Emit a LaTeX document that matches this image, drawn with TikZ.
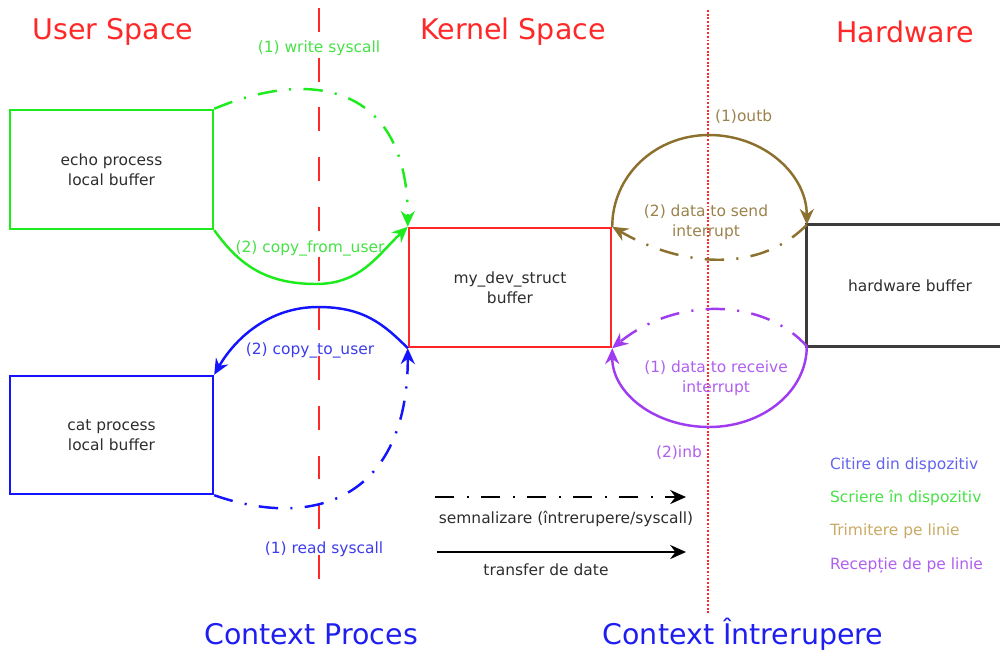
\documentclass[tikz,border=0pt]{standalone}
\usepackage{fontspec}
\setmainfont{DejaVu Sans}
\usetikzlibrary{arrows.meta}
\definecolor{titlered}{RGB}{255,40,40}
\definecolor{ctxblue}{RGB}{30,30,240}
\definecolor{wrgreen}{RGB}{30,235,30}
\definecolor{wrgreentxt}{RGB}{70,225,70}
\definecolor{rdblue}{RGB}{20,20,255}
\definecolor{rdbluetxt}{RGB}{60,60,235}
\definecolor{sendbrown}{RGB}{140,112,45}
\definecolor{sendbrowntxt}{RGB}{155,130,75}
\definecolor{sendtan}{RGB}{200,170,100}
\definecolor{recvpurple}{RGB}{160,60,240}
\definecolor{recvpurpletxt}{RGB}{175,95,240}
\definecolor{hwgray}{RGB}{60,60,60}
\definecolor{boxtext}{RGB}{45,45,45}
\newcommand\smalltxt{\fontsize{8.8}{11.3}\selectfont}
\newcommand\bigtxt{\fontsize{16.2}{19}\selectfont}

\begin{document}
\begin{tikzpicture}[x=0.02cm,y=-0.02cm,
  buf/.style={draw,line width=1.4pt,minimum width=4.06cm,minimum height=2.38cm,
    align=center,text=boxtext,font=\smalltxt},
  lbl/.style={align=center,font=\smalltxt,inner sep=1pt},
  title/.style={font=\bigtxt,inner sep=0pt},
  flow/.style={line width=1.4pt,-{Stealth[length=9pt,width=8pt,inset=3pt]}},
  signal/.style={flow,dash pattern=on 11pt off 7pt on 1.2pt off 7pt},
  sepline/.style={titlered,line width=1.3pt,dash pattern=on 13.6pt off 14.7pt}]
\useasboundingbox (0,0) rectangle (1000,653);

% titles
\node[title,titlered] (tuser) at (113,32) {User Space};
\node[title,titlered] (tkernel) at (513,32) {Kernel Space};
\node[title,titlered] (thw) at (905,32) {Hardware};
\node[title,ctxblue] (tproc) at (311,634) {Context Proces};
\node[title,ctxblue] (tirq) at (743,634) {Context Întrerupere};

% separators
\draw[sepline] (319,8) -- (319,590);
\draw[titlered,line width=1.1pt,densely dotted] (708,10) -- (708,615);

% buffers
\node[buf,wrgreen] (echo) at (111.5,169.5) {\textcolor{boxtext}{echo process}\\\textcolor{boxtext}{local buffer}};
\node[buf,rdblue,minimum height=2.36cm] (cat) at (111.5,435) {\textcolor{boxtext}{cat process}\\\textcolor{boxtext}{local buffer}};
\node[buf,titlered,minimum width=4.04cm] (dev) at (510,287.5) {\textcolor{boxtext}{my\_dev\_struct}\\\textcolor{boxtext}{buffer}};
\node[buf,draw=none,minimum width=4.08cm] (hw) at (910,285.5) {hardware buffer};
\coordinate (edge) at (1000,0);
\draw[hwgray,line width=1.6pt] (hw.north -| edge) -- (hw.north west)
  -- (hw.south west) -- (hw.south -| edge);

% write path
\coordinate (gbot) at (316,284);
\draw[signal,wrgreen] (echo.north east) .. controls +(100,-42) and +(0,-140) .. (dev.north west);
\draw[flow,wrgreen] (echo.south east) .. controls +(22,30) and +(-55,0) .. (gbot)
  .. controls +(45,0) and +(-30,28) .. (dev.north west);
\node[lbl,wrgreentxt] (lwrite) at (319,48) {(1) write syscall};
\node[lbl,wrgreentxt] (lfrom) at (310,248) {(2) copy\_from\_user};

% read path
\coordinate (btop) at (318,307);
\draw[flow,rdblue] (dev.south west) .. controls +(-25,-25) and +(45,0) .. (btop)
  .. controls +(-50,0) and +(20,-35) .. (cat.north east);
\draw[signal,rdblue] (cat.south east) .. controls +(100,35) and +(0,150) .. (dev.south west);
\node[lbl,rdbluetxt] (lto) at (310,350) {(2) copy\_to\_user};
\node[lbl,rdbluetxt] (lread) at (324,549) {(1) read syscall};

% send on line
\coordinate (otop) at (709,135);
\draw[flow,sendbrown] (dev.north east) .. controls +(0,-51) and +(-54,0) .. (otop)
  .. controls +(54,0) and +(0,-51) .. (hw.north west);
\draw[signal,sendbrown] (hw.north west) .. controls +(-48,49) and +(69,40) .. (dev.north east);
\node[lbl,sendbrowntxt,anchor=west] (loutb) at (713,117) {(1)outb};
\node[lbl,sendbrowntxt] (lsend) at (706,222) {(2) data to send\\interrupt};

% receive from line
\coordinate (ibot) at (709,427);
\draw[signal,recvpurple] (hw.south west) .. controls +(-43,-48) and +(64,-52) .. (dev.south east);
\draw[flow,recvpurple] (hw.south west) .. controls +(0,45) and +(54,0) .. (ibot)
  .. controls +(-54,0) and +(0,45) .. (dev.south east);
\node[lbl,recvpurpletxt] (lrecv) at (716,378) {(1) data to receive\\interrupt};
\node[lbl,recvpurpletxt,anchor=east] (linb) at (704,453) {(2)inb};

% key
\coordinate (sigA) at (435,497);
\coordinate (sigB) at (686,497);
\coordinate (trA) at (437,552);
\coordinate (trB) at (686,552);
\draw[signal,black] (sigA) -- (sigB);
\draw[flow,black] (trA) -- (trB);
\node[lbl,boxtext] (lsig) at (566,519) {semnalizare (întrerupere/syscall)};
\node[lbl,boxtext] (ltr) at (546,570) {transfer de date};
\node[lbl,anchor=west,text=rdbluetxt!80!white] (kread) at (828,465) {Citire din dispozitiv};
\node[lbl,anchor=west,text=wrgreentxt] (kwrite) at (828,498) {Scriere în dispozitiv};
\node[lbl,anchor=west,text=sendtan] (ksend) at (828,531) {Trimitere pe linie};
\node[lbl,anchor=west,text=recvpurpletxt] (krecv) at (828,565) {Recepție de pe linie};
\end{tikzpicture}
\end{document}
